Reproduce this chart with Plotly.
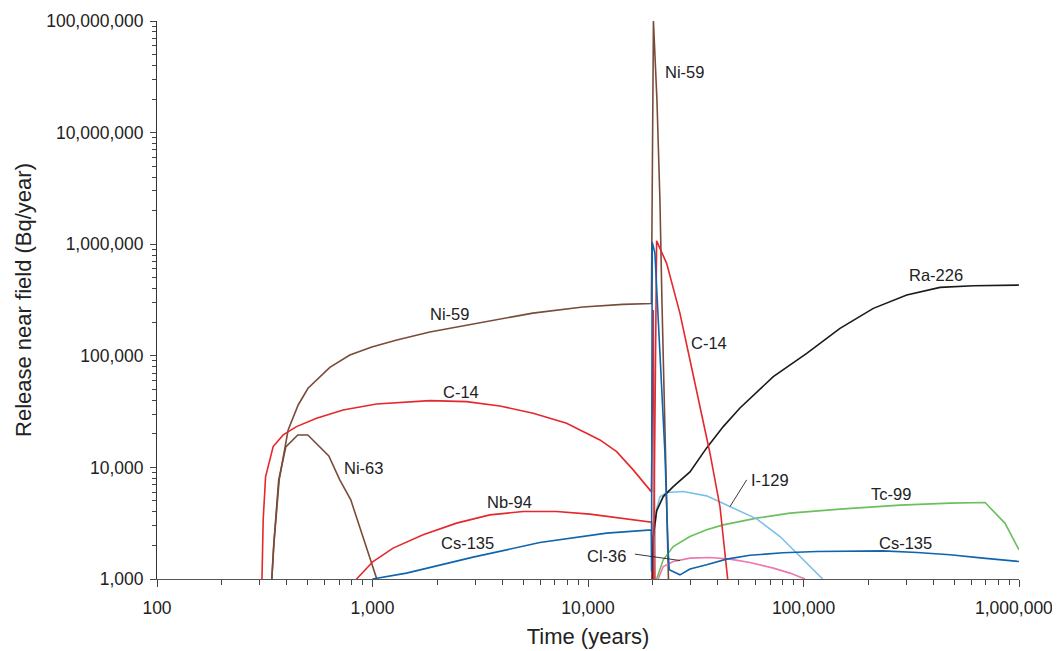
import plotly.graph_objects as go

# ---------------- data (time in years, release in Bq/year) ----------------
ni59_t = [341, 349, 369, 406, 452, 502, 634, 785, 993, 1297, 1845, 3252, 5549, 9469,
          14520, 19690, 20120, 20890, 21570, 22030, 22750, 23620]
ni59_v = [1000, 2110, 7730, 21650, 36260, 51160, 78880, 101600, 119900, 138400, 163200,
          200600, 241400, 273300, 289000, 293900, 100000000, 19500000, 2480000, 316000,
          17630, 1000]

ni63_t = [341, 348, 367, 396, 450, 501, 627, 705, 793, 902, 1047]
ni63_v = [1000, 2020, 7730, 15240, 19540, 19540, 12680, 7730, 5120, 2390, 1000]

c14_early_t = [307, 311, 319, 346, 385, 444, 550, 730, 1044, 1845, 2732, 3899, 5566,
               7955, 11360, 13580, 16210, 19700, 20080, 20440]
c14_early_v = [1000, 3390, 8220, 15360, 19540, 23190, 27570, 32720, 37030, 39630, 38830,
               35530, 30560, 24870, 17630, 13850, 9500, 6035, 257000, 1000]

c14_late_t = [20120, 20820, 23170, 26710, 29730, 33070, 36810, 40960, 44480]
c14_late_v = [1000, 1072000, 673200, 240200, 91700, 35020, 13400, 4458, 1000]

nb94_t = [843, 1006, 1246, 1718, 2455, 3504, 5003, 7148, 10200, 14570, 19740, 19910]
nb94_v = [1000, 1435, 1891, 2487, 3166, 3756, 4022, 4022, 3811, 3509, 3232, 1000]

cs135_t = [1000, 1438, 2931, 5979, 12200, 19650, 19720, 19860, 20440, 21570, 22750, 23570,
           23820, 26710, 29730, 35530, 44000, 56440, 80320, 115500, 164400, 233900,
           336500, 478700, 681300, 1000000]
cs135_v = [1000, 1129, 1571, 2122, 2576, 2757, 1160, 1044000, 832300, 105900, 13490, 1717,
           1209, 1090, 1227, 1340, 1507, 1630, 1717, 1763, 1788, 1788, 1727, 1647, 1539,
           1435]

ra226_t = [19860, 20080, 20820, 22340, 24860, 29730, 35530, 42430, 50720, 72410, 103500,
           147700, 210900, 301400, 430200, 614300, 1000000]
ra226_v = [1000, 2402, 4081, 5477, 6731, 9114, 14950, 23190, 34100, 65010, 105300, 176300,
           266200, 350300, 410500, 424300, 430400]

i129_t = [20120, 20440, 20890, 21570, 23170, 27670, 35530, 45580, 60630, 77800, 96310,
          122800]
i129_v = [1000, 2951, 4340, 5443, 5950, 6073, 5557, 4458, 3458, 2402, 1590, 1000]

tc99_t = [20820, 22340, 24860, 29730, 35530, 42430, 60630, 86560, 147700, 280500, 478700,
          696100, 861800, 1000000]
tc99_v = [1000, 1486, 1954, 2402, 2757, 3056, 3509, 3890, 4225, 4587, 4781, 4841, 3153,
          1826]

cl36_t = [21180, 22340, 24860, 29730, 36810, 45580, 56440, 72410, 86560, 101600]
cl36_v = [1000, 1294, 1435, 1539, 1558, 1507, 1405, 1252, 1129, 1000]

# leader lines for labels (data coordinates)
i129_leader_t = [45580, 54490]
i129_leader_v = [4458, 7730]
cl36_leader_t = [16510, 26710]
cl36_leader_v = [1671, 1464]

x_tickvals = [100, 1000, 10000, 100000, 1000000]
x_ticktext = ["100", "1,000", "10,000", "100,000", "1,000,000"]
y_tickvals = [1000, 10000, 100000, 1000000, 10000000, 100000000]
y_ticktext = ["1,000", "10,000", "100,000", "1,000,000", "10,000,000", "100,000,000"]

BROWN = "#7a4b3a"
RED = "#e4282c"
BLUE = "#0f64ad"
BLACK = "#1a1a1a"
LBLUE = "#7cc0e8"
GREEN = "#6cbf5f"
PINK = "#ef78ae"

series = [
    ("Ni-63", ni63_t, ni63_v, BROWN),
    ("Ni-59", ni59_t, ni59_v, BROWN),
    ("C-14", c14_early_t, c14_early_v, RED),
    ("Nb-94", nb94_t, nb94_v, RED),
    ("Tc-99", tc99_t, tc99_v, GREEN),
    ("Cl-36", cl36_t, cl36_v, PINK),
    ("I-129", i129_t, i129_v, LBLUE),
    ("Ra-226", ra226_t, ra226_v, BLACK),
    ("C-14 (late)", c14_late_t, c14_late_v, RED),
    ("Cs-135", cs135_t, cs135_v, BLUE),
]

fig = go.Figure()
for name, t, v, col in series:
    fig.add_trace(go.Scatter(x=t, y=v, mode="lines", name=name,
                             line=dict(color=col, width=1.6), showlegend=False))

for t, v in [(i129_leader_t, i129_leader_v), (cl36_leader_t, cl36_leader_v)]:
    fig.add_trace(go.Scatter(x=t, y=v, mode="lines", line=dict(color="#222222", width=0.9),
                             showlegend=False, hoverinfo="skip"))

FONT = "Liberation Sans, Arial, sans-serif"

# labels: (text, log10 x, log10 y)
labels = [
    ("Ni-59", 4.4499, 7.5434),
    ("Ni-59", 3.3589, 5.3716),
    ("C-14", 3.4099, 4.6786),
    ("Ni-63", 2.9596, 3.9928),
    ("Nb-94", 3.6374, 3.6884),
    ("Cs-135", 3.4424, 3.3268),
    ("Cl-36", 4.0878, 3.2104),
    ("C-14", 4.5613, 5.1119),
    ("Ra-226", 5.6152, 5.7234),
    ("I-129", 4.8468, 3.8881),
    ("Tc-99", 5.4039, 3.7601),
    ("Cs-135", 5.4735, 3.3268),
]
for txt, lx, ly in labels:
    fig.add_annotation(x=lx, y=ly, xref="x", yref="y", text=txt, showarrow=False,
                       font=dict(family=FONT, size=16.5, color="#222222"))

axis_font = dict(family=FONT, size=17.5, color="#222222")

# the last x label sits at the page edge: it is drawn as a separate text nudged inward
x_ticktext_drawn = x_ticktext[:-1] + [""]
fig.add_annotation(x=6, y=0, xref="x", yref="paper", text=x_ticktext[-1], showarrow=False,
                   xanchor="center", yanchor="middle", xshift=-5, yshift=-29,
                   font=axis_font)

fig.update_xaxes(
    type="log", range=[2, 6],
    tickvals=x_tickvals, ticktext=x_ticktext_drawn,
    ticks="outside", ticklen=7, tickcolor="#444444", tickwidth=1,
    ticklabelstandoff=6, ticklabeloverflow="allow",
    minor=dict(ticks="outside", ticklen=5, tickcolor="#444444", tickwidth=1, dtick="D1",
               showgrid=False),
    showline=True, linecolor="#555555", linewidth=1,
    showgrid=False, zeroline=False,
    tickfont=axis_font,
    title=dict(text="Time (years)", font=dict(family=FONT, size=22, color="#222222"),
               standoff=11),
)
fig.update_yaxes(
    type="log", range=[3, 8],
    tickvals=y_tickvals, ticktext=y_ticktext,
    ticks="outside", ticklen=6, tickcolor="#444444", tickwidth=1,
    ticklabelstandoff=3, ticklabeloverflow="allow",
    minor=dict(ticks="outside", ticklen=4, tickcolor="#444444", tickwidth=1, dtick="D1",
               showgrid=False),
    showline=True, linecolor="#333333", linewidth=1,
    showgrid=False, zeroline=False,
    tickfont=axis_font,
    title=dict(text="Release near field (Bq/year)",
               font=dict(family=FONT, size=22, color="#222222"), standoff=8),
)

# the page body adds an 8px offset; size the figure so the plot area lands on the reference
fig.update_layout(
    width=1052, height=643,
    margin=dict(l=149, r=41, t=13, b=72, autoexpand=False),
    paper_bgcolor="white", plot_bgcolor="white",
    showlegend=False,
)

fig.write_html("out.html")
